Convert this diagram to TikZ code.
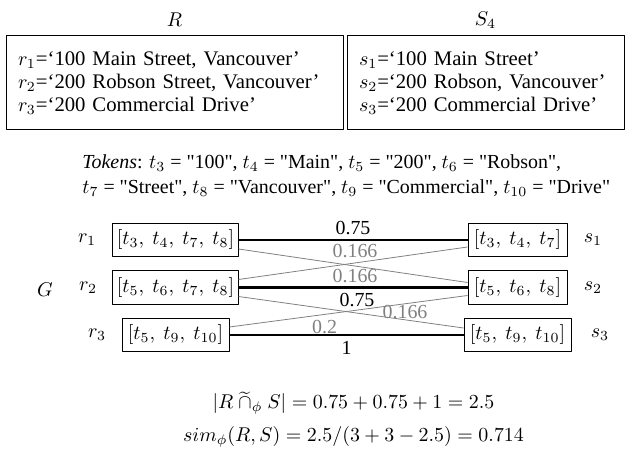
\documentclass[tikz,border=0pt]{standalone}
\usepackage{fontspec}
\setmainfont{Liberation Serif}[Ligatures=TeXOff]
\usepackage{amsmath}
\definecolor{edgegray}{RGB}{128,128,128}
\tikzset{
  tokbox/.style={draw,line width=0.5pt,minimum height=16.5bp,inner xsep=2pt},
  strong/.style={black,line width=1.1pt},
  weak/.style={edgegray,line width=0.4pt},
  weaklbl/.style={text=edgegray,inner sep=0pt},
  stronglbl/.style={text=black,inner sep=0pt},
}
\begin{document}
\begin{tikzpicture}[line join=bevel,]
\useasboundingbox (0bp,0bp) rectangle (314.5bp,227.5bp);
%%
\node (node_R) at (87.25bp,217.5bp) [draw=none] {$R$};
  \node (node_S) at (242.75bp,217.5bp) [draw=none] {$S_4$};
  \node (node_Rbox) at (87.25bp,186.0bp) [draw,line width=0.5pt,minimum width=168.5bp,minimum height=47bp,text width=156.5bp,inner xsep=6bp,align=left,font=\fontsize{10.4}{11.5}\selectfont] {%
    \mbox{$r_1$=‘100 Main Street, Vancouver’}\\
    \mbox{$r_2$=‘200 Robson Street, Vancouver’}\\
    \mbox{$r_3$=‘200 Commercial Drive’}};
  \node (node_Sbox) at (242.75bp,186.0bp) [draw,line width=0.5pt,minimum width=138.5bp,minimum height=47bp,text width=126.5bp,inner xsep=6bp,align=left,font=\fontsize{10.4}{11.5}\selectfont] {%
    \mbox{$s_1$=‘100 Main Street’}\\
    \mbox{$s_2$=‘200 Robson, Vancouver’}\\
    \mbox{$s_3$=‘200 Commercial Drive’}};
  \node (node_tokens) at (41.0bp,139.75bp) [draw=none,anchor=west,inner xsep=0pt,align=left,font=\fontsize{10}{12.5}\selectfont] {%
    \textit{Tokens}: $t_3$ = "100", $t_4$ = "Main", $t_5$ = "200", $t_6$ = "Robson",\\
    $t_7$ = "Street", $t_8$ = "Vancouver", $t_9$ = "Commercial", $t_{10}$ = "Drive"};
%
  \node (node_G) at (22.5bp,82.5bp) [draw=none] {$G$};
  \node (node_lr1) at (43.5bp,107.5bp) [draw=none] {$r_1$};
  \node (node_lr2) at (44.0bp,83.5bp) [draw=none] {$r_2$};
  \node (node_lr3) at (48.5bp,60.0bp) [draw=none] {$r_3$};
  \node (node_r1) at (87.75bp,107.5bp) [tokbox,minimum width=62.5bp] {$[t_3,\ t_4,\ t_7,\ t_8]$};
  \node (node_r2) at (87.75bp,83.75bp) [tokbox,minimum width=62.5bp] {$[t_5,\ t_6,\ t_7,\ t_8]$};
  \node (node_r3) at (87.75bp,60.0bp) [tokbox,minimum width=53.5bp] {$[t_5,\ t_9,\ t_{10}]$};
  \node (node_s1) at (258.75bp,107.5bp) [tokbox,minimum width=49.5bp] {$[t_3,\ t_4,\ t_7]$};
  \node (node_s2) at (258.75bp,83.75bp) [tokbox,minimum width=49.5bp] {$[t_5,\ t_6,\ t_8]$};
  \node (node_s3) at (258.75bp,60.0bp) [tokbox,minimum width=53.5bp] {$[t_5,\ t_9,\ t_{10}]$};
  \node (node_ls1) at (296.5bp,107.5bp) [draw=none] {$s_1$};
  \node (node_ls2) at (296.5bp,83.5bp) [draw=none] {$s_2$};
  \node (node_ls3) at (300.0bp,60.0bp) [draw=none] {$s_3$};
%
  \draw [weak] ([yshift=-4.5bp]node_r1.east) -- ([yshift=2.5bp]node_s2.west) node [weaklbl,midway,xshift=1bp,yshift=7.25bp] {0.166};
  \draw [weak] ([yshift=4bp]node_r2.east) -- ([yshift=-3.5bp]node_s1.west) node [weaklbl,midway,xshift=1bp,yshift=-6.5bp] {0.166};
  \draw [weak] ([yshift=-4.5bp]node_r2.east) -- ([yshift=3.5bp]node_s3.west) node [weaklbl,pos=0.74,yshift=3.85bp] {0.166};
  \draw [weak] ([yshift=4bp]node_r3.east) -- ([yshift=-4bp]node_s2.west) node [weaklbl,pos=0.4,yshift=-6.3bp] {0.2};
  \draw [strong] (node_r1) -- (node_s1) node [stronglbl,midway,yshift=6bp] {0.75};
  \draw [strong] (node_r2) -- (node_s2) node [stronglbl,midway,xshift=2bp,yshift=-6.5bp] {0.75};
  \draw [strong] (node_r3) -- (node_s3) node [stronglbl,midway,yshift=-6.5bp] {1};
%
  \node (node_inter) at (176.75bp,26.0bp) [draw=none] {$|R\ \widetilde{\cap}_{\phi}\ S| = 0.75 + 0.75 + 1 = 2.5$};
  \node (node_sim) at (176.75bp,9.0bp) [draw=none] {$sim_{\phi}(R,S) = 2.5/(3+3-2.5) = 0.714$};
%
\end{tikzpicture}
\end{document}
